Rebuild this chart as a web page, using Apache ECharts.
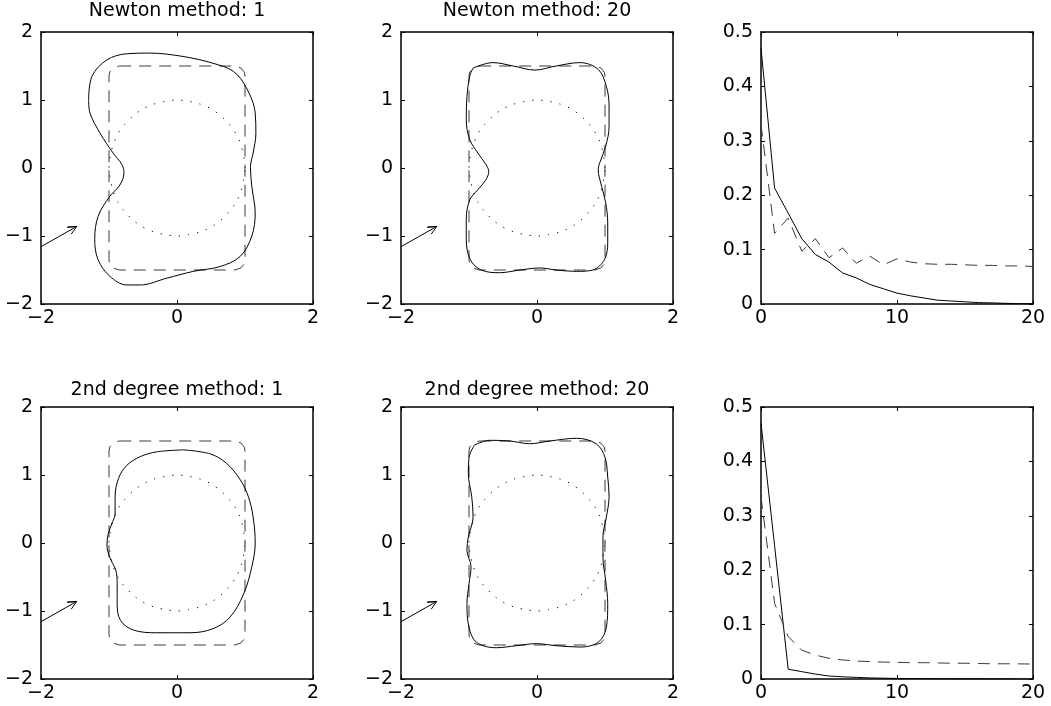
<!DOCTYPE html>
<html>
<head>
<meta charset="utf-8">
<title>Newton / 2nd degree method</title>
<script src="https://cdn.jsdelivr.net/npm/echarts@6/dist/echarts.min.js"></script>
<style>
  html, body { margin: 0; background: #fff; }
  #chart { width: 1051px; height: 706px; }
</style>
</head>
<body>
<div id="chart"></div>
<script>
// ---- data ----
const titles = ['Newton method: 1', 'Newton method: 20', '', '2nd degree method: 1', '2nd degree method: 20', '']

// unit circle (dotted)
const circleX = [1, 0.98, 0.94, 0.87, 0.77, 0.64, 0.5, 0.34, 0.17, 0, -0.17, -0.34, -0.5, -0.64, -0.77, -0.87, -0.94, -0.98, -1,
  -0.98, -0.94, -0.87, -0.77, -0.64, -0.5, -0.34, -0.17, 0, 0.17, 0.34, 0.5, 0.64, 0.77, 0.87, 0.94, 0.98, 1]
const circleY = [0, 0.17, 0.34, 0.5, 0.64, 0.77, 0.87, 0.94, 0.98, 1, 0.98, 0.94, 0.87, 0.77, 0.64, 0.5, 0.34, 0.17, 0,
  -0.17, -0.34, -0.5, -0.64, -0.77, -0.87, -0.94, -0.98, -1, -0.98, -0.94, -0.87, -0.77, -0.64, -0.5, -0.34, -0.17, 0]

// target shape (dashed rounded rectangle)
const targetShape = [[-0.85, 1.5], [0.85, 1.5], [0.94, 1.47], [0.99, 1.41], [1.0, 1.35], [1.0, -1.35], [0.99, -1.41],
  [0.94, -1.47], [0.85, -1.5], [-0.85, -1.5], [-0.94, -1.47], [-0.99, -1.41], [-1.0, -1.35], [-1.0, 1.35],
  [-0.99, 1.41], [-0.94, 1.47], [-0.85, 1.5]]

// the little arrow (shaft, then head)
const arrow = [[-2, -1.157], [-1.475, -0.86], [-1.615, -0.871], [-1.475, -0.86], [-1.556, -0.974]]

// reconstructed curves
const newton1 = [[-1.30, 1.00], [-1.25, 1.35], [-1.03, 1.59], [-0.74, 1.68], [-0.40, 1.69], [0.09, 1.64], [0.53, 1.54],
  [0.83, 1.42], [1.02, 1.18], [1.15, 0.81], [1.16, 0.51], [1.12, 0.22], [1.08, 0.02], [1.10, -0.27], [1.15, -0.66],
  [1.10, -1.00], [0.93, -1.30], [0.63, -1.45], [0.24, -1.52], [-0.15, -1.62], [-0.54, -1.72], [-0.74, -1.72],
  [-0.99, -1.59], [-1.16, -1.35], [-1.21, -1.05], [-1.16, -0.71], [-0.99, -0.42], [-0.84, -0.25], [-0.78, -0.07],
  [-0.81, 0.05], [-0.94, 0.22], [-1.13, 0.51], [-1.28, 0.81], [-1.30, 1.00]]
const newton20 = [[-0.94, 1.47], [-0.65, 1.55], [-0.35, 1.50], [-0.03, 1.44], [0.28, 1.50], [0.63, 1.55], [0.90, 1.45],
  [1.02, 1.20], [1.06, 0.91], [1.06, 0.61], [1.01, 0.32], [0.92, 0.07], [0.90, -0.02], [0.95, -0.27], [1.01, -0.51],
  [1.04, -0.81], [1.04, -1.10], [0.99, -1.35], [0.82, -1.50], [0.58, -1.52], [0.28, -1.50], [0.04, -1.47],
  [-0.25, -1.50], [-0.55, -1.54], [-0.82, -1.50], [-0.98, -1.35], [-1.04, -1.05], [-1.04, -0.76], [-0.99, -0.47],
  [-0.87, -0.32], [-0.75, -0.17], [-0.71, -0.05], [-0.75, 0.05], [-0.87, 0.22], [-0.99, 0.42], [-1.04, 0.71],
  [-1.03, 1.05], [-0.99, 1.35], [-0.94, 1.47]]
const degree1 = [[0.09, 1.37], [-0.30, 1.34], [-0.54, 1.27], [-0.74, 1.14], [-0.86, 0.95], [-0.91, 0.68], [-0.91, 0.43],
  [-0.96, 0.28], [-1.01, 0.14], [-1.03, -0.03], [-0.99, -0.21], [-0.90, -0.40], [-0.88, -0.60], [-0.88, -0.89],
  [-0.83, -1.14], [-0.64, -1.28], [-0.30, -1.32], [0.19, -1.32], [0.53, -1.26], [0.78, -1.09], [0.98, -0.75],
  [1.10, -0.35], [1.15, 0.0], [1.12, 0.38], [1.05, 0.68], [0.93, 0.93], [0.73, 1.17], [0.49, 1.31], [0.09, 1.37]]
const degree20 = [[-0.92, 1.44], [-0.70, 1.51], [-0.40, 1.50], [-0.11, 1.46], [0.19, 1.50], [0.58, 1.54], [0.87, 1.46],
  [1.00, 1.26], [1.04, 0.97], [1.06, 0.68], [1.02, 0.38], [0.97, 0.09], [0.97, -0.21], [1.01, -0.55], [1.04, -0.89],
  [1.02, -1.24], [0.90, -1.46], [0.63, -1.53], [0.28, -1.51], [-0.01, -1.48], [-0.30, -1.51], [-0.60, -1.54],
  [-0.89, -1.46], [-1.00, -1.24], [-1.03, -0.89], [-1.00, -0.60], [-0.97, -0.35], [-1.03, -0.11], [-1.01, 0.09],
  [-0.94, 0.38], [-0.96, 0.68], [-1.01, 1.02], [-1.00, 1.26], [-0.92, 1.44]]

// error per iteration
const iterations = [0, 1, 2, 3, 4, 5, 6, 7, 8, 9, 10, 11, 12, 13, 14, 15, 16, 17, 18, 19, 20]
const newtonSolid = [0.47, 0.213, 0.167, 0.12, 0.091, 0.077, 0.057, 0.048, 0.036, 0.028, 0.020, 0.015, 0.011, 0.007,
  0.0055, 0.004, 0.0025, 0.002, 0.0012, 0.0006, 0.0004]
const newtonDashed = [0.33, 0.13, 0.158, 0.097, 0.12, 0.085, 0.103, 0.075, 0.088, 0.072, 0.083, 0.077, 0.074, 0.073,
  0.073, 0.072, 0.071, 0.071, 0.070, 0.070, 0.069]
const degreeSolid = [0.47, 0.245, 0.018, 0.0135, 0.009, 0.0055, 0.004, 0.003, 0.002, 0.0015, 0.001, 0.0008, 0.0006,
  0.0004, 0.0003, 0.0002, 0.0002, 0.0001, 0.0001, 0, 0]
const degreeDashed = [0.335, 0.139, 0.078, 0.053, 0.044, 0.038, 0.035, 0.033, 0.032, 0.031, 0.0306, 0.030, 0.030,
  0.0295, 0.029, 0.029, 0.0285, 0.028, 0.028, 0.0278, 0.0275]

// ---- layout ----
const FONT = 'DejaVu Sans'
const SIZE = 272
const gridPos = [[41, 32], [401, 32], [761, 32], [41, 407], [401, 407], [761, 407]]
const titleY = [11, 11, 11, 390, 390, 390]

const minus = v => String(v).replace('-', '\u2212')

function axis(gi, pos, min, max, step, withLabels) {
  return {
    gridIndex: gi, type: 'value', position: pos, min: min, max: max, interval: step,
    splitLine: { show: false },
    axisLine: { show: true, onZero: false, lineStyle: { color: '#000', width: 1.5 } },
    axisTick: { show: true, inside: true, length: 4, lineStyle: { color: '#000', width: 1 } },
    axisLabel: {
      show: withLabels, color: '#000', fontFamily: FONT, fontSize: 19, margin: pos === 'bottom' ? 5 : 8,
      showMinLabel: true, showMaxLabel: true, formatter: minus
    }
  }
}

const xAxes = [], yAxes = [], series = []
gridPos.forEach((p, i) => {
  const isErr = i % 3 === 2
  if (isErr) {
    xAxes.push(axis(i, 'bottom', 0, 20, 10, true), axis(i, 'top', 0, 20, 10, false))
    yAxes.push(axis(i, 'left', 0, 0.5, 0.1, true), axis(i, 'right', 0, 0.5, 0.1, false))
  } else {
    xAxes.push(axis(i, 'bottom', -2, 2, 2, true), axis(i, 'top', -2, 2, 2, false))
    yAxes.push(axis(i, 'left', -2, 2, 1, true), axis(i, 'right', -2, 2, 1, false))
  }
})

const solid = { color: '#000', width: 1 }
const dashed = { color: '#3a3a3a', width: 1, type: [12, 8] }
const dotted = { color: '#000', width: 1, type: [1.2, 8] }

function line(gi, data, style, smooth) {
  return {
    type: 'line', xAxisIndex: gi * 2, yAxisIndex: gi * 2, data: data,
    showSymbol: false, symbol: 'none', smooth: smooth, lineStyle: style, silent: true
  }
}

const circle = circleX.map((x, k) => [x, circleY[k]])
const curves = [newton1, newton20, null, degree1, degree20, null]
curves.forEach((c, i) => {
  if (!c) return
  series.push(line(i, circle, dotted, 0.3))
  series.push(line(i, targetShape, dashed, false))
  series.push(line(i, c, solid, 0.35))
  series.push(line(i, arrow, solid, false))
})

// 收敛曲线
series.push(line(2, iterations.map((x, k) => [x, newtonSolid[k]]), solid, false))
series.push(line(2, iterations.map((x, k) => [x, newtonDashed[k]]), dashed, false))
series.push(line(5, iterations.map((x, k) => [x, degreeSolid[k]]), solid, false))
series.push(line(5, iterations.map((x, k) => [x, degreeDashed[k]]), dashed, false))

const option = {
  animation: false,
  backgroundColor: '#fff',
  grid: gridPos.map(p => ({ left: p[0], top: p[1], width: SIZE, height: SIZE, containLabel: false })),
  xAxis: xAxes,
  yAxis: yAxes,
  series: series,
  graphic: titles.map((t, i) => t ? {
    type: 'text', x: gridPos[i][0] + SIZE / 2, y: titleY[i], silent: true,
    style: { text: t, align: 'center', verticalAlign: 'middle', fontFamily: FONT, fontSize: 19, fill: '#000' }
  } : null).filter(Boolean)
}

const chart = echarts.init(document.getElementById('chart'), null, { renderer: 'canvas' })
chart.setOption(option)
</script>
</body>
</html>
